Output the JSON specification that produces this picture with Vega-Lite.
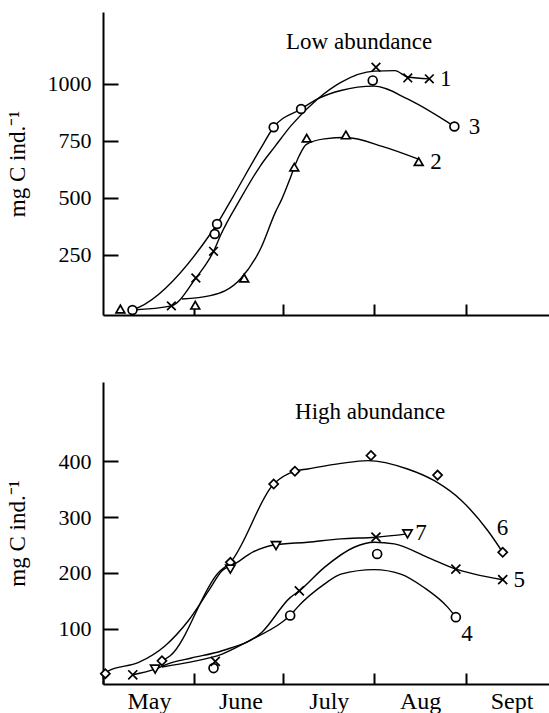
{
  "$schema": "https://vega.github.io/schema/vega-lite/v6.json",
  "padding": {"left": 5, "top": 12, "right": 0, "bottom": 0},
  "spacing": 64,
  "config": {
    "view": {"stroke": null},
    "font": "Liberation Serif",
    "axis": {
      "domainColor": "black", "domainWidth": 2, "tickColor": "black", "tickWidth": 2,
      "labelFont": "Liberation Serif", "labelFontSize": 22, "labelColor": "black",
      "titleFont": "Liberation Serif", "titleFontSize": 23, "titleFontWeight": "normal", "titleColor": "black",
      "grid": false
    }
  },
  "datasets": {
    "pts": [
      {"panel": "low", "series": "1", "day": 23.2, "value": 27},
      {"panel": "low", "series": "1", "day": 31.5, "value": 149},
      {"panel": "low", "series": "1", "day": 37.5, "value": 266},
      {"panel": "low", "series": "1", "day": 92.6, "value": 1073},
      {"panel": "low", "series": "1", "day": 103.4, "value": 1026},
      {"panel": "low", "series": "1", "day": 110.7, "value": 1022},
      {"panel": "low", "series": "2", "day": 5.9, "value": 13},
      {"panel": "low", "series": "2", "day": 31.3, "value": 30},
      {"panel": "low", "series": "2", "day": 47.9, "value": 149},
      {"panel": "low", "series": "2", "day": 64.9, "value": 635},
      {"panel": "low", "series": "2", "day": 69.1, "value": 762},
      {"panel": "low", "series": "2", "day": 82.4, "value": 776},
      {"panel": "low", "series": "2", "day": 107.1, "value": 659},
      {"panel": "low", "series": "3", "day": 10, "value": 9},
      {"panel": "low", "series": "3", "day": 37.9, "value": 342},
      {"panel": "low", "series": "3", "day": 38.7, "value": 386},
      {"panel": "low", "series": "3", "day": 57.9, "value": 810},
      {"panel": "low", "series": "3", "day": 67.2, "value": 890},
      {"panel": "low", "series": "3", "day": 91.5, "value": 1015},
      {"panel": "low", "series": "3", "day": 119.2, "value": 813},
      {"panel": "high", "series": "4", "day": 37.5, "value": 30},
      {"panel": "high", "series": "4", "day": 63.5, "value": 124},
      {"panel": "high", "series": "4", "day": 93, "value": 234},
      {"panel": "high", "series": "4", "day": 119.7, "value": 121},
      {"panel": "high", "series": "5", "day": 10.1, "value": 18},
      {"panel": "high", "series": "5", "day": 38.1, "value": 42},
      {"panel": "high", "series": "5", "day": 66.6, "value": 168},
      {"panel": "high", "series": "5", "day": 92.6, "value": 264},
      {"panel": "high", "series": "5", "day": 119.7, "value": 207},
      {"panel": "high", "series": "5", "day": 135.6, "value": 188},
      {"panel": "high", "series": "6", "day": 0.8, "value": 20},
      {"panel": "high", "series": "6", "day": 20, "value": 43},
      {"panel": "high", "series": "6", "day": 43.2, "value": 219},
      {"panel": "high", "series": "6", "day": 57.9, "value": 359},
      {"panel": "high", "series": "6", "day": 65.1, "value": 382},
      {"panel": "high", "series": "6", "day": 90.9, "value": 410},
      {"panel": "high", "series": "6", "day": 113.5, "value": 375},
      {"panel": "high", "series": "6", "day": 135.6, "value": 237},
      {"panel": "high", "series": "7", "day": 17.7, "value": 28},
      {"panel": "high", "series": "7", "day": 43.2, "value": 207},
      {"panel": "high", "series": "7", "day": 58.7, "value": 249},
      {"panel": "high", "series": "7", "day": 103.3, "value": 270}
    ],
    "curves": [
      {"panel": "low", "series": "1", "day": 10, "value": 9},
      {"panel": "low", "series": "1", "day": 23.2, "value": 27},
      {"panel": "low", "series": "1", "day": 31.5, "value": 149},
      {"panel": "low", "series": "1", "day": 37.5, "value": 266},
      {"panel": "low", "series": "1", "day": 40, "value": 340},
      {"panel": "low", "series": "1", "day": 46.6, "value": 496},
      {"panel": "low", "series": "1", "day": 53.4, "value": 641},
      {"panel": "low", "series": "1", "day": 58.3, "value": 725},
      {"panel": "low", "series": "1", "day": 63.8, "value": 817},
      {"panel": "low", "series": "1", "day": 72.8, "value": 934},
      {"panel": "low", "series": "1", "day": 80.7, "value": 1007},
      {"panel": "low", "series": "1", "day": 92, "value": 1056},
      {"panel": "low", "series": "1", "day": 99, "value": 1058},
      {"panel": "low", "series": "1", "day": 103.4, "value": 1030},
      {"panel": "low", "series": "1", "day": 110.7, "value": 1022},
      {"panel": "low", "series": "2", "day": 26.8, "value": 57},
      {"panel": "low", "series": "2", "day": 36.4, "value": 72},
      {"panel": "low", "series": "2", "day": 46.6, "value": 145},
      {"panel": "low", "series": "2", "day": 53.4, "value": 276},
      {"panel": "low", "series": "2", "day": 58.5, "value": 438},
      {"panel": "low", "series": "2", "day": 60.7, "value": 496},
      {"panel": "low", "series": "2", "day": 63.2, "value": 576},
      {"panel": "low", "series": "2", "day": 64.9, "value": 635},
      {"panel": "low", "series": "2", "day": 66.6, "value": 686},
      {"panel": "low", "series": "2", "day": 69, "value": 735},
      {"panel": "low", "series": "2", "day": 75.1, "value": 759},
      {"panel": "low", "series": "2", "day": 82.4, "value": 765},
      {"panel": "low", "series": "2", "day": 95, "value": 725},
      {"panel": "low", "series": "2", "day": 107, "value": 670},
      {"panel": "low", "series": "3", "day": 10, "value": 9},
      {"panel": "low", "series": "3", "day": 12.1, "value": 20},
      {"panel": "low", "series": "3", "day": 36.4, "value": 342},
      {"panel": "low", "series": "3", "day": 38.7, "value": 386},
      {"panel": "low", "series": "3", "day": 43.7, "value": 496},
      {"panel": "low", "series": "3", "day": 53.4, "value": 715},
      {"panel": "low", "series": "3", "day": 57.9, "value": 810},
      {"panel": "low", "series": "3", "day": 67.2, "value": 890},
      {"panel": "low", "series": "3", "day": 72.8, "value": 934},
      {"panel": "low", "series": "3", "day": 80.7, "value": 971},
      {"panel": "low", "series": "3", "day": 92, "value": 990},
      {"panel": "low", "series": "3", "day": 103.3, "value": 934},
      {"panel": "low", "series": "3", "day": 116.9, "value": 832},
      {"panel": "low", "series": "3", "day": 119.2, "value": 813},
      {"panel": "high", "series": "4", "day": 20, "value": 32},
      {"panel": "high", "series": "4", "day": 30, "value": 41},
      {"panel": "high", "series": "4", "day": 40.4, "value": 55},
      {"panel": "high", "series": "4", "day": 50, "value": 80},
      {"panel": "high", "series": "4", "day": 60.7, "value": 112},
      {"panel": "high", "series": "4", "day": 63.5, "value": 124},
      {"panel": "high", "series": "4", "day": 66, "value": 139},
      {"panel": "high", "series": "4", "day": 75.1, "value": 180},
      {"panel": "high", "series": "4", "day": 80.7, "value": 198},
      {"panel": "high", "series": "4", "day": 92, "value": 206},
      {"panel": "high", "series": "4", "day": 101, "value": 198},
      {"panel": "high", "series": "4", "day": 108.9, "value": 174},
      {"panel": "high", "series": "4", "day": 116.9, "value": 139},
      {"panel": "high", "series": "4", "day": 119.7, "value": 121},
      {"panel": "high", "series": "5", "day": 10.1, "value": 18},
      {"panel": "high", "series": "5", "day": 17.7, "value": 28},
      {"panel": "high", "series": "5", "day": 22.3, "value": 38},
      {"panel": "high", "series": "5", "day": 30, "value": 48},
      {"panel": "high", "series": "5", "day": 40.4, "value": 61},
      {"panel": "high", "series": "5", "day": 53.9, "value": 94},
      {"panel": "high", "series": "5", "day": 63.5, "value": 156},
      {"panel": "high", "series": "5", "day": 66.6, "value": 168},
      {"panel": "high", "series": "5", "day": 75.1, "value": 210},
      {"panel": "high", "series": "5", "day": 85.2, "value": 246},
      {"panel": "high", "series": "5", "day": 92, "value": 255},
      {"panel": "high", "series": "5", "day": 98.8, "value": 252},
      {"panel": "high", "series": "5", "day": 110.1, "value": 228},
      {"panel": "high", "series": "5", "day": 119.7, "value": 207},
      {"panel": "high", "series": "5", "day": 126, "value": 198},
      {"panel": "high", "series": "5", "day": 135.6, "value": 188},
      {"panel": "high", "series": "6", "day": 20, "value": 43},
      {"panel": "high", "series": "6", "day": 22.8, "value": 52},
      {"panel": "high", "series": "6", "day": 39.2, "value": 201},
      {"panel": "high", "series": "6", "day": 43.2, "value": 219},
      {"panel": "high", "series": "6", "day": 57.9, "value": 359},
      {"panel": "high", "series": "6", "day": 65.1, "value": 382},
      {"panel": "high", "series": "6", "day": 69.4, "value": 386},
      {"panel": "high", "series": "6", "day": 80.7, "value": 396},
      {"panel": "high", "series": "6", "day": 89.8, "value": 401},
      {"panel": "high", "series": "6", "day": 103.3, "value": 386},
      {"panel": "high", "series": "6", "day": 112.4, "value": 365},
      {"panel": "high", "series": "6", "day": 121.5, "value": 330},
      {"panel": "high", "series": "6", "day": 130.5, "value": 276},
      {"panel": "high", "series": "6", "day": 135.6, "value": 237},
      {"panel": "high", "series": "7", "day": 0.8, "value": 20},
      {"panel": "high", "series": "7", "day": 1.9, "value": 25},
      {"panel": "high", "series": "7", "day": 12.1, "value": 40},
      {"panel": "high", "series": "7", "day": 21.1, "value": 70},
      {"panel": "high", "series": "7", "day": 29, "value": 115},
      {"panel": "high", "series": "7", "day": 35.8, "value": 168},
      {"panel": "high", "series": "7", "day": 40.4, "value": 204},
      {"panel": "high", "series": "7", "day": 44.3, "value": 215},
      {"panel": "high", "series": "7", "day": 51.1, "value": 238},
      {"panel": "high", "series": "7", "day": 57.9, "value": 250},
      {"panel": "high", "series": "7", "day": 69.4, "value": 255},
      {"panel": "high", "series": "7", "day": 80.7, "value": 261},
      {"panel": "high", "series": "7", "day": 92.6, "value": 264},
      {"panel": "high", "series": "7", "day": 103.3, "value": 270}
    ],
    "ann": [
      {"panel": "low", "label": "Low abundance", "day": 86.9, "value": 1183},
      {"panel": "low", "label": "1", "day": 116.3, "value": 1022},
      {"panel": "low", "label": "2", "day": 113, "value": 657},
      {"panel": "low", "label": "3", "day": 126, "value": 811},
      {"panel": "high", "label": "High abundance", "day": 90.6, "value": 487},
      {"panel": "high", "label": "4", "day": 123.5, "value": 91},
      {"panel": "high", "label": "5", "day": 141.2, "value": 188},
      {"panel": "high", "label": "6", "day": 135.5, "value": 280},
      {"panel": "high", "label": "7", "day": 107.9, "value": 271}
    ]
  },
  "vconcat": [
    {
      "width": 446,
      "height": 303,
      "encoding": {
        "x": {"field": "day", "type": "quantitative", "scale": {"domain": [0, 151.3], "nice": false, "zero": false},
              "axis": {"values": [31, 61, 92, 123], "tickSize": -11, "labels": false, "title": null}},
        "y": {"field": "value", "type": "quantitative", "scale": {"domain": [-13, 1315], "nice": false, "zero": false},
              "axis": {"values": [250, 500, 750, 1000], "format": "d", "tickSize": -15, "labelPadding": 27, "labelFont": "Liberation Serif", "labelFlush": false, "title": "mg C ind.⁻¹", "titleX": -74}}
      },
      "layer": [
        {
          "data": {"name": "curves"},
          "transform": [{"filter": "datum.panel == 'low'"}],
          "mark": {"type": "line", "interpolate": "monotone", "color": "black", "strokeWidth": 1.4},
          "encoding": {"detail": {"field": "series"}}
        },
        {
          "data": {"name": "pts"},
          "transform": [{"filter": "datum.panel == 'low'"}],
          "mark": {"type": "point", "fill": "white", "stroke": "black", "strokeWidth": 1.7, "opacity": 1, "fillOpacity": 1},
          "encoding": {
            "shape": {"field": "series", "type": "nominal", "scale": {"domain": ["1", "2", "3", "4", "5", "6", "7"], "range": ["M-1,-1L1,1M1,-1L-1,1", "triangle-up", "circle", "circle", "M-1,-1L1,1M1,-1L-1,1", "diamond", "triangle-down"]}, "legend": null},
            "size": {"field": "series", "type": "ordinal", "scale": {"domain": ["1", "2", "3", "4", "5", "6", "7"], "range": [75, 85, 200, 190, 75, 320, 110]}, "legend": null}
          }
        },
        {
          "data": {"name": "ann"},
          "transform": [{"filter": "datum.panel == 'low'"}],
          "mark": {"type": "text", "font": "Liberation Serif", "fontSize": 23, "color": "black", "baseline": "middle", "align": "center"},
          "encoding": {"text": {"field": "label"}}
        },
        {
          "data": {"values": [{}]},
          "mark": {"type": "rule", "color": "black", "strokeWidth": 2},
          "encoding": {"x": {"datum": 0}, "x2": {"datum": 151.3}, "y": {"datum": 1315}}
        }
      ]
    },
    {
      "width": 446,
      "height": 302,
      "encoding": {
        "x": {"field": "day", "type": "quantitative", "scale": {"domain": [0, 151.3], "nice": false, "zero": false},
              "axis": {"values": [0, 31, 61, 92, 123], "tickSize": -11, "labelPadding": 16, "labelOffset": 46, "labelFontSize": 24, "labelFont": "Liberation Serif", "labelFlush": false, "labelBound": false, "labelOverlap": false, "title": null,
                       "labelExpr": "datum.value == 0 ? 'May' : datum.value == 31 ? 'June' : datum.value == 61 ? 'July' : datum.value == 92 ? 'Aug' : 'Sept'"}},
        "y": {"field": "value", "type": "quantitative", "scale": {"domain": [1.5, 541.5], "nice": false, "zero": false},
              "axis": {"values": [100, 200, 300, 400], "format": "d", "tickSize": -15, "labelPadding": 27, "labelFont": "Liberation Serif", "labelFlush": false, "title": "mg C ind.⁻¹", "titleX": -74}}
      },
      "layer": [
        {
          "data": {"name": "curves"},
          "transform": [{"filter": "datum.panel == 'high'"}],
          "mark": {"type": "line", "interpolate": "monotone", "color": "black", "strokeWidth": 1.4},
          "encoding": {"detail": {"field": "series"}}
        },
        {
          "data": {"name": "pts"},
          "transform": [{"filter": "datum.panel == 'high'"}],
          "mark": {"type": "point", "fill": "white", "stroke": "black", "strokeWidth": 1.7, "opacity": 1, "fillOpacity": 1},
          "encoding": {
            "shape": {"field": "series", "type": "nominal", "scale": {"domain": ["1", "2", "3", "4", "5", "6", "7"], "range": ["M-1,-1L1,1M1,-1L-1,1", "triangle-up", "circle", "circle", "M-1,-1L1,1M1,-1L-1,1", "diamond", "triangle-down"]}, "legend": null},
            "size": {"field": "series", "type": "ordinal", "scale": {"domain": ["1", "2", "3", "4", "5", "6", "7"], "range": [75, 85, 200, 190, 75, 320, 110]}, "legend": null}
          }
        },
        {
          "data": {"name": "ann"},
          "transform": [{"filter": "datum.panel == 'high'"}],
          "mark": {"type": "text", "font": "Liberation Serif", "fontSize": 23, "color": "black", "baseline": "middle", "align": "center"},
          "encoding": {"text": {"field": "label"}}
        },
        {
          "data": {"values": [{}]},
          "mark": {"type": "rule", "color": "black", "strokeWidth": 2},
          "encoding": {"x": {"datum": 0}, "x2": {"datum": 151.3}, "y": {"datum": 541.5}}
        }
      ]
    }
  ]
}
